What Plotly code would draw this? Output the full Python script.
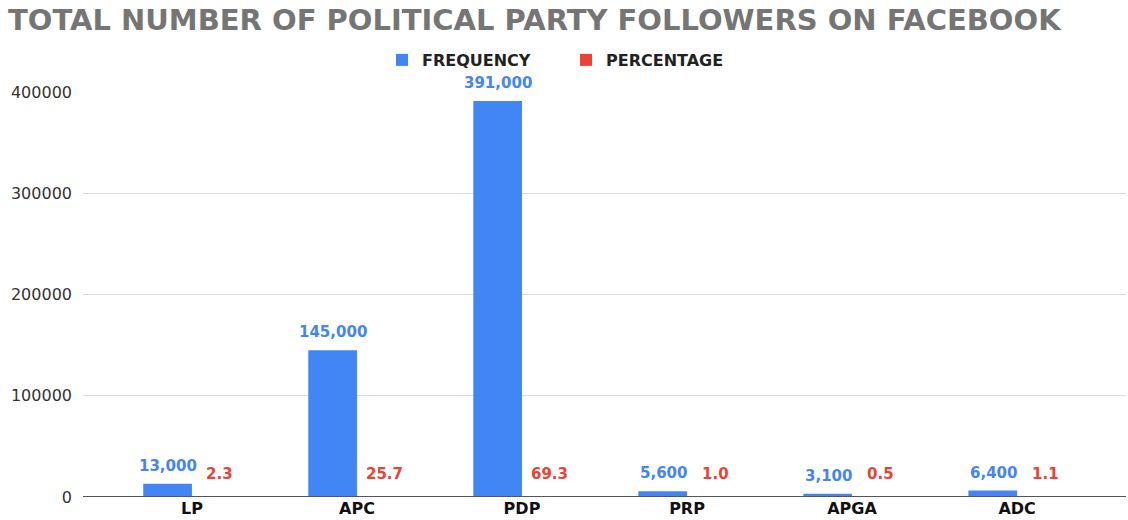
import plotly.graph_objects as go

parties = ["LP", "APC", "PDP", "PRP", "APGA", "ADC"]
frequency = [13000, 145000, 391000, 5600, 3100, 6400]
percentage = [2.3, 25.7, 69.3, 1.0, 0.5, 1.1]
y_ticks = [0, 100000, 200000, 300000, 400000]

BLUE = "#4285F4"
RED = "#EA4335"
FONT = "DejaVu Sans, Liberation Sans, Arial, sans-serif"

fig = go.Figure()
fig.add_trace(go.Bar(x=parties, y=frequency, name="FREQUENCY", marker_color=BLUE,
                     marker_line_width=0))
fig.add_trace(go.Bar(x=parties, y=percentage, name="PERCENTAGE", marker_color=RED,
                     marker_line_width=0))

for p, f, pc in zip(parties, frequency, percentage):
    fig.add_annotation(x=p, y=f, text=f"{f:,}", showarrow=False, xshift=-24,
                       yanchor="bottom", yshift=7,
                       font=dict(family=FONT, size=15, color=BLUE, weight="bold"))
    fig.add_annotation(x=p, y=pc, text=f"{pc:.1f}", showarrow=False, xshift=28,
                       yanchor="bottom", yshift=12,
                       font=dict(family=FONT, size=15, color=RED, weight="bold"))

# baseline (x axis line) drawn over the bars at y = 0
fig.add_hline(y=0, line_color="#555555", line_width=2, layer="above")

fig.update_layout(
    width=1128, height=520,
    margin=dict(l=83, r=2, t=92, b=23),
    paper_bgcolor="white", plot_bgcolor="white",
    barmode="group", bargap=0.41, bargroupgap=0,
    title=dict(text="<b>TOTAL NUMBER OF POLITICAL PARTY FOLLOWERS ON FACEBOOK</b>",
               x=8 / 1128, xref="container", xanchor="left",
               y=1 - 20 / 520, yref="container", yanchor="middle",
               font=dict(family=FONT, size=29, color="#757575")),
    legend=dict(orientation="h", xref="container", x=566 / 1128, xanchor="center",
                yref="container", y=1 - 60 / 520, yanchor="middle",
                font=dict(family=FONT, size=16, color="#222222", weight="bold"),
                itemsizing="constant", itemwidth=30, tracegroupgap=0,
                entrywidth=139, entrywidthmode="pixels"),
    showlegend=True,
)
fig.update_xaxes(range=[-0.66, 5.66], showgrid=False, showline=False, ticks="",
                 tickfont=dict(family=FONT, size=16, color="#111111", weight="bold"))
fig.update_yaxes(range=[0, 400000], tickvals=y_ticks, ticktext=[str(v) for v in y_ticks],
                 showgrid=True, gridcolor="#d9d9d9", gridwidth=1, zeroline=False,
                 showline=False, ticks="", ticklabelstandoff=10,
                 tickfont=dict(family=FONT, size=16, color="#333333"))

fig.write_html("out.html")
